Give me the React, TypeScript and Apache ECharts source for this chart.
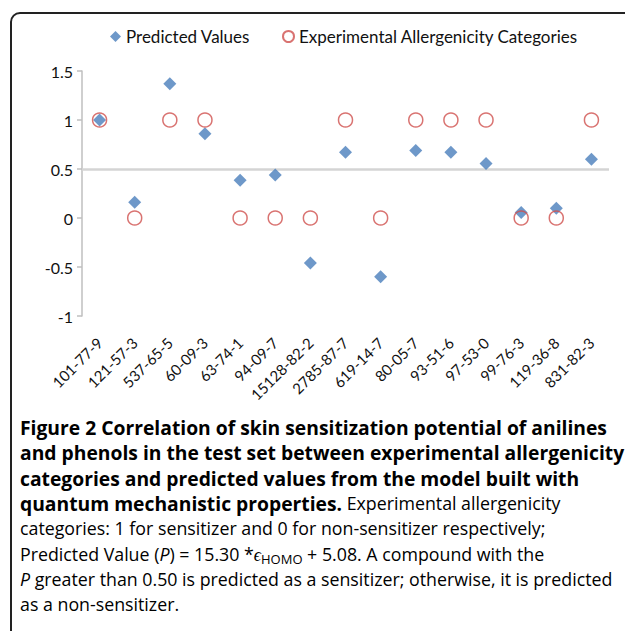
import React, { useEffect, useRef } from "react";
import * as echarts from "echarts";

const categories = [
  "101-77-9", "121-57-3", "537-65-5", "60-09-3", "63-74-1", "94-09-7", "15128-82-2",
  "2785-87-7", "619-14-7", "80-05-7", "93-51-6", "97-53-0", "99-76-3", "119-36-8", "831-82-3",
];
const predictedValues = [1.0, 0.16, 1.37, 0.86, 0.385, 0.44, -0.46, 0.67, -0.6, 0.69, 0.67, 0.555, 0.055, 0.1, 0.6];
const experimentalCategories = [1, 0, 1, 1, 0, 0, 0, 1, 0, 1, 1, 1, 0, 0, 1];
const yTicks = { min: -1, max: 1.5, interval: 0.5 };
const threshold = 0.5;

const chartFont = "Lato";
const capFont = "'Open Sans'";

export default function App() {
  const ref = useRef<HTMLDivElement>(null);
  useEffect(() => {
    document.body.style.margin = "0";
    const chart = echarts.init(ref.current!, null, { renderer: "svg" });
    const capX = 20;
    const capY0 = 430;
    const capStep = 25.3;
    const boldSize = 19.3;
    const regSize = 17.8;
    const rich: any = {
      b: { fontFamily: capFont, fontWeight: "bold", fontSize: boldSize, color: "#111" },
      r: { fontFamily: capFont, fontSize: regSize, color: "#404040" },
      i: { fontFamily: capFont, fontSize: regSize, fontStyle: "italic", color: "#404040" },
      e: { fontFamily: capFont, fontSize: regSize, fontStyle: "italic", color: "#404040" },
      s: { fontFamily: capFont, fontSize: 13, color: "#404040", padding: [10, 0, 0, 0] },
    };
    const lines = [
      "{b|Figure 2 Correlation of skin sensitization potential of anilines}",
      "{b|and phenols in the test set between experimental allergenicity}",
      "{b|categories and predicted values from the model built with}",
      "{b|quantum mechanistic properties.}{r| Experimental allergenicity}",
      "{r|categories: 1 for sensitizer and 0 for non-sensitizer respectively;}",
      "{r|Predicted Value (}{i|P}{r|) = 15.30 *}{e|ϵ}{s|HOMO}{r| + 5.08. A compound with the}",
      "{i|P}{r| greater than 0.50 is predicted as a sensitizer; otherwise, it is predicted}",
      "{r|as a non-sensitizer.}",
    ];
    const captionEls = lines.map((t, k) => ({
      type: "text",
      left: capX,
      top: capY0 + capStep * k - 12,
      style: { text: t, rich, verticalAlign: "top" },
      z: 10,
    }));

    chart.setOption({
      animation: false,
      backgroundColor: "#fff",
      textStyle: { fontFamily: chartFont },
      legend: [
        {
          data: [{ name: "Predicted Values", icon: "diamond" }],
          left: 105,
          top: 23,
          itemWidth: 11,
          itemHeight: 11,
          itemGap: 4,
          textStyle: { fontFamily: chartFont, fontSize: 17, color: "#111" },
        },
        {
          data: [{ name: "Experimental Allergenicity Categories", icon: "circle" }],
          left: 277,
          top: 23,
          itemWidth: 11,
          itemHeight: 11,
          itemGap: 4,
          textStyle: { fontFamily: chartFont, fontSize: 17, color: "#111" },
        },
      ],
      grid: { left: 82, right: 16, top: 71, bottom: 315, containLabel: false },
      xAxis: {
        type: "category",
        data: categories,
        axisLine: { show: false },
        axisTick: { show: false },
        axisLabel: {
          rotate: 45,
          interval: 0,
          margin: 24,
          fontFamily: chartFont,
          fontSize: 15,
          color: "#111",
        },
        splitLine: { show: false },
      },
      yAxis: [
        {
          type: "value",
          min: yTicks.min,
          max: yTicks.max,
          interval: yTicks.interval,
          axisLine: { show: true, lineStyle: { color: "#bfbfbf", width: 1.5 } },
          axisTick: { show: true, length: 5, lineStyle: { color: "#bfbfbf", width: 1.5 } },
          axisLabel: {
            fontFamily: chartFont,
            fontSize: 16,
            color: "#111",
            margin: 9,
            formatter: (v: number) => String(v),
          },
          splitLine: { show: false },
        },
      ],
      series: [
        {
          name: "Predicted Values",
          type: "scatter",
          symbol: "diamond",
          symbolSize: 13,
          data: predictedValues,
          itemStyle: { color: "#4a7ebb" },
          z: 3,
        },
        {
          name: "Experimental Allergenicity Categories",
          type: "scatter",
          symbol: "circle",
          symbolSize: 14,
          data: experimentalCategories,
          itemStyle: { color: "rgba(255,255,255,0)", borderColor: "#d0504d", borderWidth: 1.5 },
          z: 4,
          markLine: {
            silent: true,
            symbol: ["none", "none"],
            label: { show: false },
            emphasis: { disabled: true },
            lineStyle: { color: "#d4d4d4", width: 2.5, type: "solid" },
            data: [{ yAxis: threshold }],
            z: 1,
          },
        },
      ],
      graphic: [
        {
          type: "rect",
          shape: { x: 11, y: 13, width: 640, height: 660, r: 9 },
          style: { fill: "none", stroke: "#222", lineWidth: 2 },
          z: 20,
        },
        ...captionEls,
      ],
    });
    return () => chart.dispose();
  }, []);
  return <div ref={ref} style={{ width: 625, height: 631 }} />;
}
